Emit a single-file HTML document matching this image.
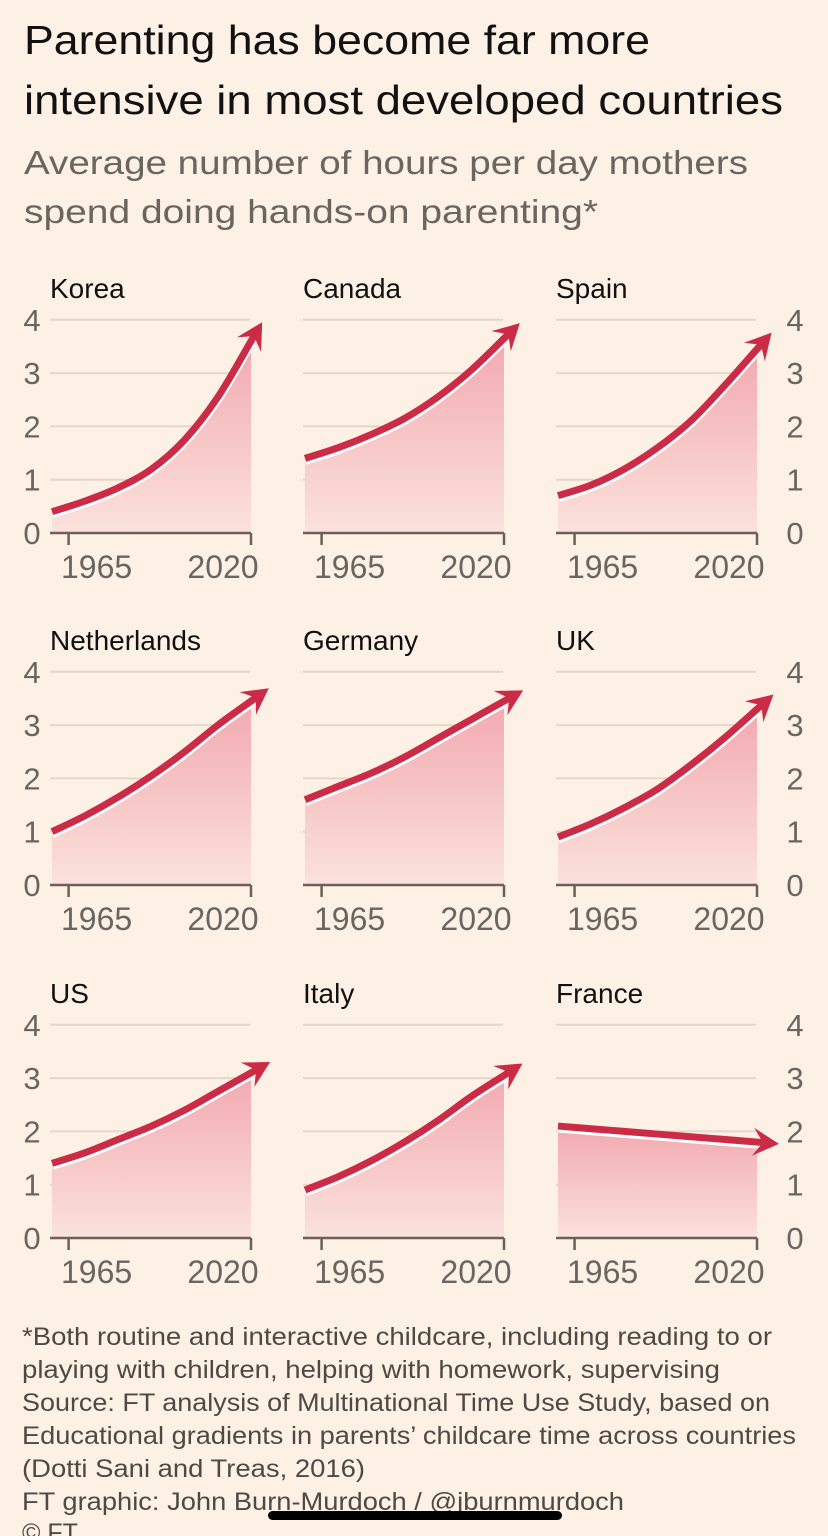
<!DOCTYPE html>
<html><head><meta charset="utf-8"><style>
html,body{margin:0;padding:0;background:#fdf1e5;}
svg{display:block;}
</style></head><body>
<svg id="c" width="828" height="1536" viewBox="0 0 828 1536" xmlns="http://www.w3.org/2000/svg">
<defs>
<linearGradient id="ag" x1="0" y1="0" x2="0" y2="1">
<stop offset="0" stop-color="#f2a9b0"/><stop offset="1" stop-color="#fbe2dc"/>
</linearGradient>
</defs>
<rect width="828" height="1536" fill="#fdf1e5"/>
<g font-family="Liberation Sans, sans-serif">
<text x="24" y="54" font-size="41" fill="#111" textLength="626" lengthAdjust="spacingAndGlyphs">Parenting has become far more</text>
<text x="24" y="114" font-size="41" fill="#111" textLength="759" lengthAdjust="spacingAndGlyphs">intensive in most developed countries</text>
<text x="24" y="174" font-size="33" fill="#6b6560" textLength="724" lengthAdjust="spacingAndGlyphs">Average number of hours per day mothers</text>
<text x="24" y="223" font-size="33" fill="#6b6560" textLength="574" lengthAdjust="spacingAndGlyphs">spend doing hands-on parenting*</text>
</g>
<g id="panels"></g>
<g font-family="Liberation Sans Narrow, Liberation Sans, sans-serif" font-size="25" fill="#4f4944">
<text x="22" y="1345" textLength="750" lengthAdjust="spacingAndGlyphs">*Both routine and interactive childcare, including reading to or</text>
<text x="22" y="1378" textLength="698" lengthAdjust="spacingAndGlyphs">playing with children, helping with homework, supervising</text>
<text x="22" y="1411" textLength="748" lengthAdjust="spacingAndGlyphs">Source: FT analysis of Multinational Time Use Study, based on</text>
<text x="22" y="1444" textLength="774" lengthAdjust="spacingAndGlyphs">Educational gradients in parents’ childcare time across countries</text>
<text x="22" y="1477" textLength="343" lengthAdjust="spacingAndGlyphs">(Dotti Sani and Treas, 2016)</text>
<text x="22" y="1510" textLength="602" lengthAdjust="spacingAndGlyphs">FT graphic: John Burn-Murdoch / @jburnmurdoch</text>
<text x="22" y="1541">© FT</text>
</g>
<rect x="268" y="1511" width="294" height="9" rx="4.5" fill="#000"/>
</svg>
<script>
const countries = ["Korea","Canada","Spain","Netherlands","Germany","UK","US","Italy","France"];
const years = [1960,1970,1980,1990,2000,2010,2020];
const korea = [0.4,0.6,0.85,1.2,1.75,2.55,3.6];
const canada = [1.4,1.6,1.85,2.15,2.55,3.05,3.65];
const spain = [0.7,0.9,1.2,1.6,2.1,2.75,3.45];
const netherlands = [1.0,1.3,1.65,2.05,2.5,3.0,3.45];
const germany = [1.6,1.85,2.1,2.4,2.75,3.1,3.45];
const uk = [0.9,1.15,1.45,1.8,2.25,2.75,3.3];
const us = [1.4,1.6,1.85,2.1,2.4,2.75,3.1];
const italy = [0.9,1.15,1.45,1.8,2.2,2.65,3.05];
const france = [2.1,2.05,2.0,1.95,1.9,1.85,1.8];
const yTicks = [0,1,2,3,4];
const xTicks = [1965,2020];

const series = [korea,canada,spain,netherlands,germany,uk,us,italy,france];
const NS = "http://www.w3.org/2000/svg";
const root = document.getElementById("panels");
function mk(tag, attrs, parent){const e=document.createElementNS(NS,tag);for(const k in attrs)e.setAttribute(k,attrs[k]);(parent||root).appendChild(e);return e;}
const colLeft=[50,303,556], rowZero=[533,885,1238], unit=53.3;
function smooth(p){let d="M"+p[0][0]+","+p[0][1];for(let i=0;i<p.length-1;i++){const p0=p[i-1]||p[i],p1=p[i],p2=p[i+1],p3=p[i+2]||p2;const c1=[p1[0]+(p2[0]-p0[0])/6,p1[1]+(p2[1]-p0[1])/6],c2=[p2[0]-(p3[0]-p1[0])/6,p2[1]-(p3[1]-p1[1])/6];d+=" C"+c1[0]+","+c1[1]+" "+c2[0]+","+c2[1]+" "+p2[0]+","+p2[1];}return d;}
series.forEach((vals,i)=>{
  const col=i%3,row=Math.floor(i/3);
  const L=colLeft[col], Z=rowZero[row];
  const xs=y=>L+2+(y-1960)*(199/60);
  const ys=v=>Z-v*unit;
  const g=mk("g",{});
  
  
  const t=mk("text",{x:L,y:Z-235,"font-size":28,fill:"#111","font-family":"Liberation Sans, sans-serif"},g);
  t.textContent=countries[i];
  
  
  yTicks.forEach(v=>{
    if(v>0){const gl=mk("line",{x1:L,x2:L+200,y1:ys(v),y2:ys(v),stroke:"#e4d6cb","stroke-width":2},g);
    
    }
    if(col!==1){const lx=col===0?32:795;
    const tl=mk("text",{x:lx,y:ys(v)+11,"font-size":31,fill:"#6b6560","text-anchor":"middle","font-family":"Liberation Sans, sans-serif"},g);
    tl.textContent=v;
    
    }
  });
  const pts=years.map((y,k)=>[xs(y),ys(vals[k])]);
  const d=smooth(pts);
  const area=mk("path",{d:d+" L"+pts[pts.length-1][0]+","+Z+" L"+pts[0][0]+","+Z+" Z",fill:"url(#ag)"},g);
  
  
  const ax=mk("line",{x1:L,x2:L+201,y1:Z,y2:Z,stroke:"#6b6158","stroke-width":2.5},g);
  
  
  xTicks.forEach(y=>{
    const tk=mk("line",{x1:xs(y),x2:xs(y),y1:Z,y2:Z+12,stroke:"#6b6158","stroke-width":2.5},g);
    
    
    const tl=mk("text",{x:xs(y)+(y===1965?28:-28),y:Z+45,"font-size":32,fill:"#6b6560","text-anchor":"middle","font-family":"Liberation Sans, sans-serif"},g);
    tl.textContent=y;
    
    
  });
  const hl=mk("path",{d:d,fill:"none",stroke:"#fff","stroke-width":9,transform:"translate(0,2)"},g);
  
  
  const a=pts[pts.length-2],b=pts[pts.length-1];
  let dx=b[0]-a[0],dy=b[1]-a[1];const n=Math.hypot(dx,dy);dx/=n;dy/=n;
  const tip=[b[0]+dx*22,b[1]+dy*22];
  const ln=mk("path",{d:d+" L"+(b[0]+dx*8)+","+(b[1]+dy*8),fill:"none",stroke:"#cc2b47","stroke-width":7,"stroke-linecap":"butt"},g);
  
  
  const px=-dy,py=dx,h=26,w=14;
  const back=[tip[0]-dx*h,tip[1]-dy*h], notch=[tip[0]-dx*h*0.62,tip[1]-dy*h*0.62];
  const head=mk("path",{d:"M"+tip[0]+","+tip[1]+" L"+(back[0]+px*w)+","+(back[1]+py*w)+" L"+notch[0]+","+notch[1]+" L"+(back[0]-px*w)+","+(back[1]-py*w)+" Z",fill:"#cc2b47"},g);
  
  
});
</script>
</body></html>
